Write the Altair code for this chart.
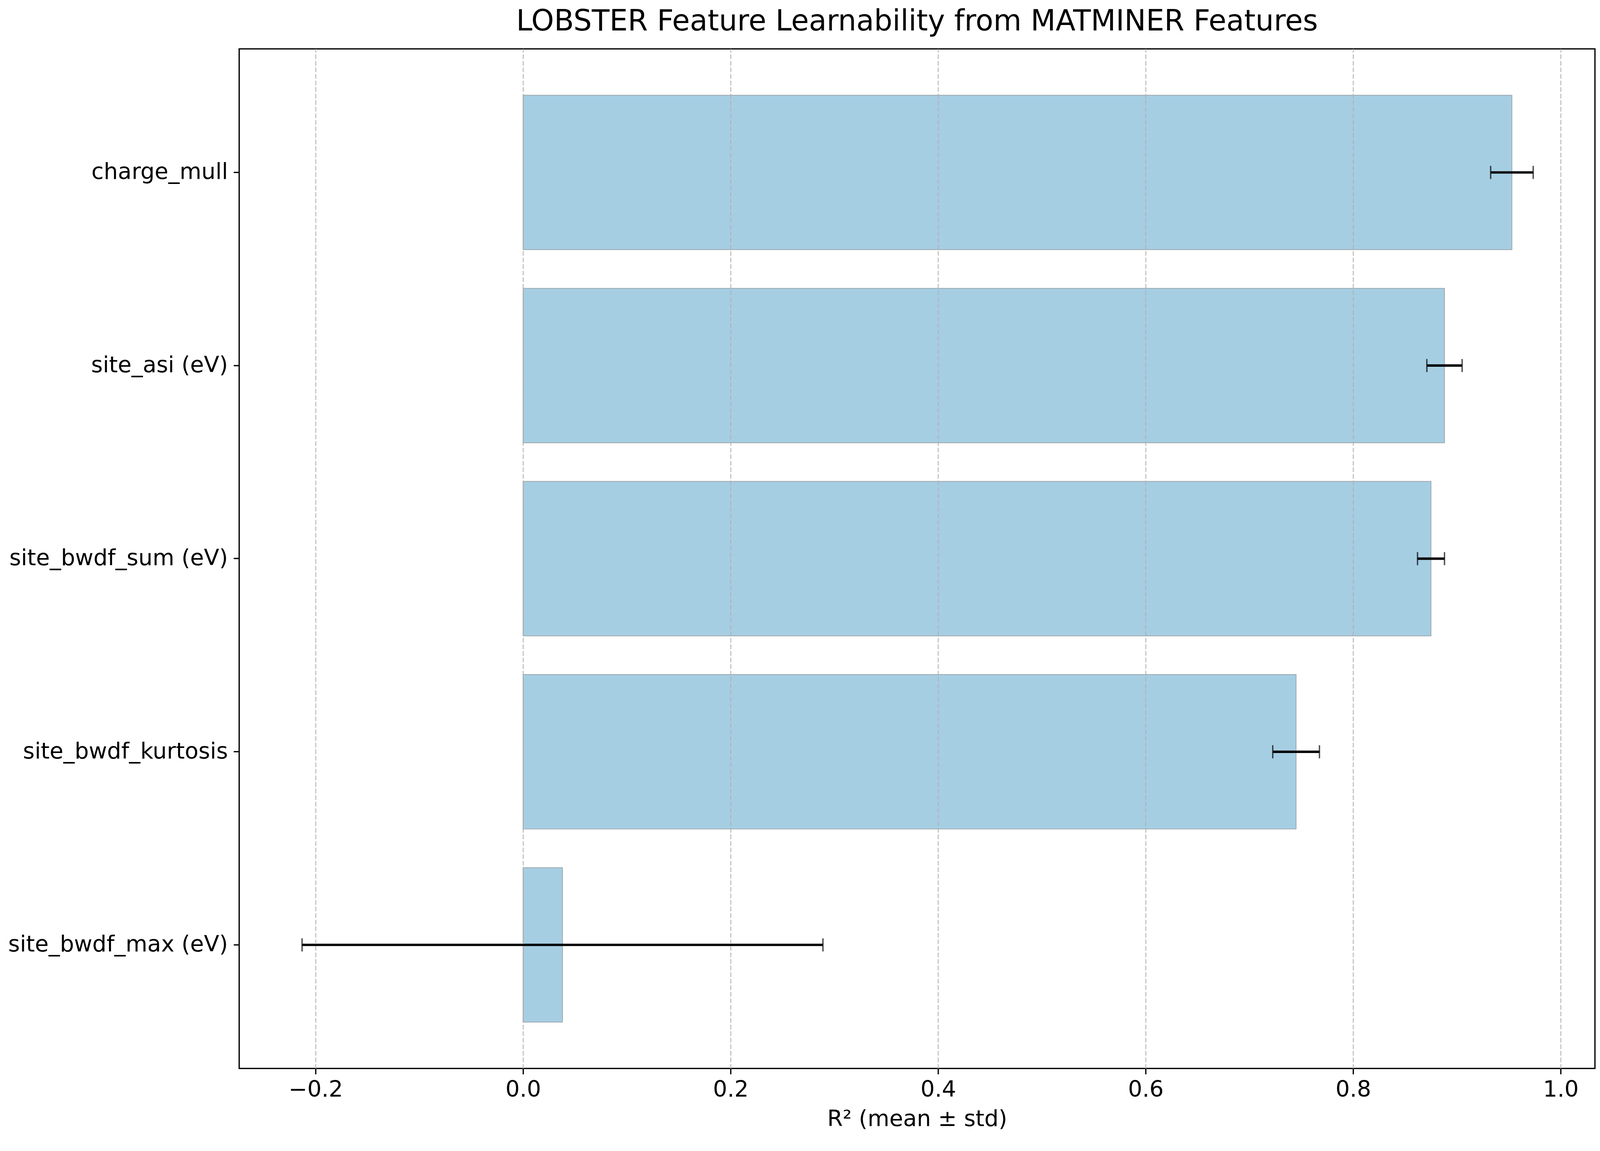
import altair as alt
import pandas as pd

features = ["charge_mull", "site_asi (eV)", "site_bwdf_sum (eV)",
            "site_bwdf_kurtosis", "site_bwdf_max (eV)"]
r2_mean = [0.953, 0.888, 0.875, 0.745, 0.038]
r2_std = [0.0205, 0.017, 0.013, 0.0225, 0.251]
x_ticks = [-0.2, 0.0, 0.2, 0.4, 0.6, 0.8, 1.0]

df = pd.DataFrame({"feature": features, "mean": r2_mean, "std": r2_std})
df["lo"] = df["mean"] - df["std"]
df["hi"] = df["mean"] + df["std"]
df["zero"] = 0.0

FONT = "DejaVu Sans"
W, H = 3515, 2644

xscale = alt.Scale(domain=[-0.2736, 1.033], nice=False, zero=False)
yscale = alt.Scale(paddingInner=0.2, paddingOuter=0.24)

xaxis = alt.Axis(
    values=x_ticks, format=".1f",
    labelExpr="replace(format(datum.value, '.1f'), '-', '\u2212')",
    grid=True, gridColor="#b0b0b0", gridOpacity=0.7, gridDash=[12, 5], gridWidth=3.3,
    domain=False, ticks=True, tickColor="black", tickWidth=3.3, tickSize=14.6,
    labelFont=FONT, labelFontSize=58, labelColor="black", labelPadding=12,
    title="R\u00b2 (mean \u00b1 std)", titleFont=FONT, titleFontSize=58,
    titleFontWeight="normal", titleColor="black", titleY=149,
    titleBaseline="alphabetic", zindex=1,
)
yaxis = alt.Axis(
    title=None, grid=False, domain=False, ticks=True, tickColor="black",
    tickWidth=3.3, tickSize=14.6, labelFont=FONT, labelFontSize=58,
    labelColor="black", labelPadding=15, labelAlign="right", labelBaseline="middle",
    labelLimit=0,
)

base = alt.Chart(df)

bars = base.mark_bar(color="#a6cee3", stroke="#808080", strokeOpacity=0.6,
                     strokeWidth=2).encode(
    y=alt.Y("feature:N", sort=features, scale=yscale, axis=yaxis),
    x=alt.X("zero:Q", scale=xscale, axis=xaxis),
    x2="mean:Q",
)

err = base.mark_rule(color="black", strokeWidth=6.25).encode(
    y=alt.Y("feature:N", sort=features),
    x=alt.X("lo:Q"),
    x2="hi:Q",
)

cap_lo = base.mark_tick(color="black", size=34, thickness=3.5).encode(
    y=alt.Y("feature:N", sort=features),
    x=alt.X("lo:Q"),
)
cap_hi = base.mark_tick(color="black", size=34, thickness=3.5).encode(
    y=alt.Y("feature:N", sort=features),
    x=alt.X("hi:Q"),
)

chart = alt.layer(bars, err, cap_lo, cap_hi).properties(
    width=W, height=H,
    background="white",
    title=alt.TitleParams("LOBSTER Feature Learnability from MATMINER Features",
                          font=FONT, fontSize=75, fontWeight="normal",
                          color="black", anchor="middle", baseline="alphabetic",
                          offset=-27),
    autosize=alt.AutoSizeParams(type="none"),
    padding={"left": 612, "top": 100, "right": 5, "bottom": 160},
).configure_view(stroke="black", strokeWidth=3.3)

chart.save("out.html", embed_options={"renderer": "svg", "actions": False})
